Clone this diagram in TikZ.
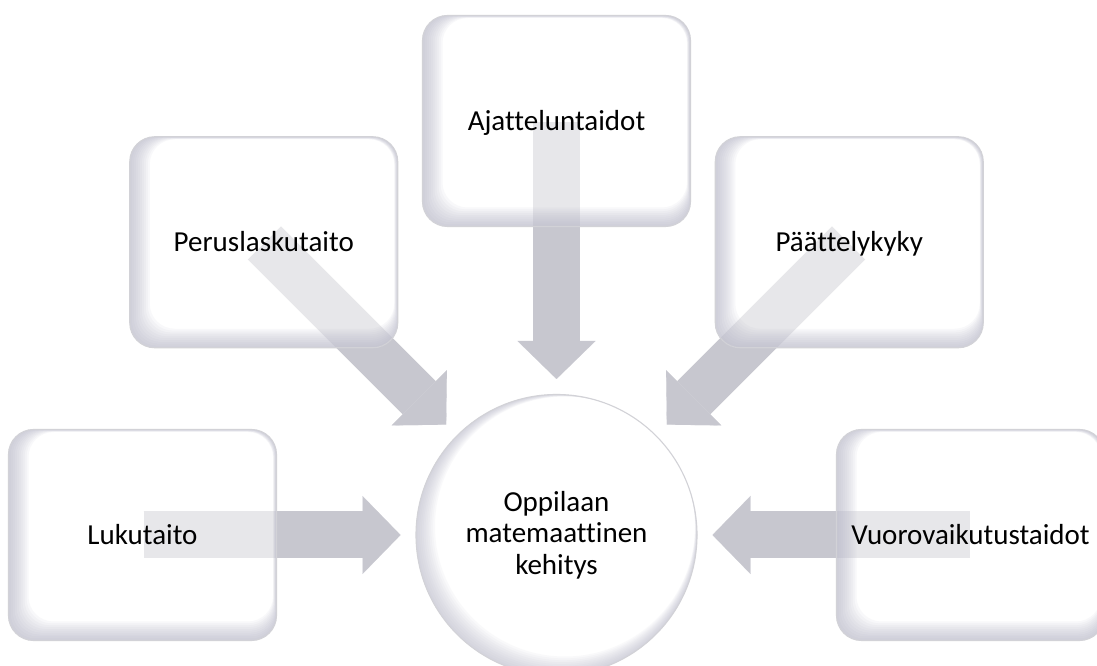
\documentclass[tikz,border=0pt]{standalone}
\usepackage{fontspec}
\setmainfont{Carlito}[Ligatures=NoCommon]
\usetikzlibrary{calc,arrows.meta,backgrounds}

\definecolor{arrowgray}{RGB}{199,199,207}
\definecolor{edgeshade}{RGB}{180,180,198}
\definecolor{rimgray}{RGB}{210,210,215}

\tikzset{
  labelfont/.style={font=\fontsize{29}{31.5}\selectfont},
  % glassy rounded box, partly see-through so the arrow shaft shows under it
  skillbox/.style={rectangle, rounded corners=25pt, minimum width=268pt,
    minimum height=211pt, inner sep=0pt, fill=white, fill opacity=0.58,
    text opacity=1, draw=rimgray, line width=1.1pt, labelfont,
    text height=23pt, text depth=4pt,
    path picture={
      \foreach \k in {1,...,10}{
        \fill[edgeshade, fill opacity=0.085, even odd rule, rounded corners=25pt]
          (path picture bounding box.south west) rectangle (path picture bounding box.north east)
          ([shift={(2pt*\k,1.9pt*\k)}]path picture bounding box.south west)
          rectangle ([shift={(-0.35pt*\k,-0.25pt*\k)}]path picture bounding box.north east);
      }}},
  % central disc with a soft inner shade on its lower left
  hubdisc/.style={circle, minimum size=281pt, inner sep=0pt, fill=white,
    draw=rimgray, line width=1.1pt, align=center, labelfont,
    path picture={
      \foreach \k in {1,...,10}{
        \fill[edgeshade, fill opacity=0.07, even odd rule]
          (path picture bounding box.center) circle[radius=141pt]
          ($(path picture bounding box.center)+(0.85pt*\k,0.85pt*\k)$) circle[radius=140.5pt-1.05pt*\k];
      }}},
  blockarrow/.style={arrowgray, line width=47pt, shorten >=156pt, shorten <=1pt,
    -{Triangle[length=38pt,width=78pt,line width=0.1pt]}}
}

\begin{document}
\begin{tikzpicture}[x=1pt,y=1pt]
  \useasboundingbox (0,0) rectangle (1097,666);
  \clip (0,0) rectangle (1097,666);

  \node[hubdisc] (hub) at (556.5,131) {Oppilaan\\matemaattinen\\kehitys};

  \node[skillbox] (lit)    at ($(hub)+(180:414)$) {Lukutaito};
  \node[skillbox] (num)    at ($(hub)+(135:414)$) {Peruslaskutaito};
  \node[skillbox] (think)  at ($(hub)+(90:414)$)  {Ajatteluntaidot};
  \node[skillbox] (reason) at ($(hub)+(45:414)$)  {Päättelykyky};
  \node[skillbox] (talk)   at ($(hub)+(0:414)$)   {Vuorovaikutustaidot};

  \begin{scope}[on background layer]
    \fill[white] (0,0) rectangle (1097,666);
    \foreach \b in {lit,num,think,reason,talk}
      \draw[blockarrow] (\b.center) -- (hub.center);
  \end{scope}
\end{tikzpicture}
\end{document}
